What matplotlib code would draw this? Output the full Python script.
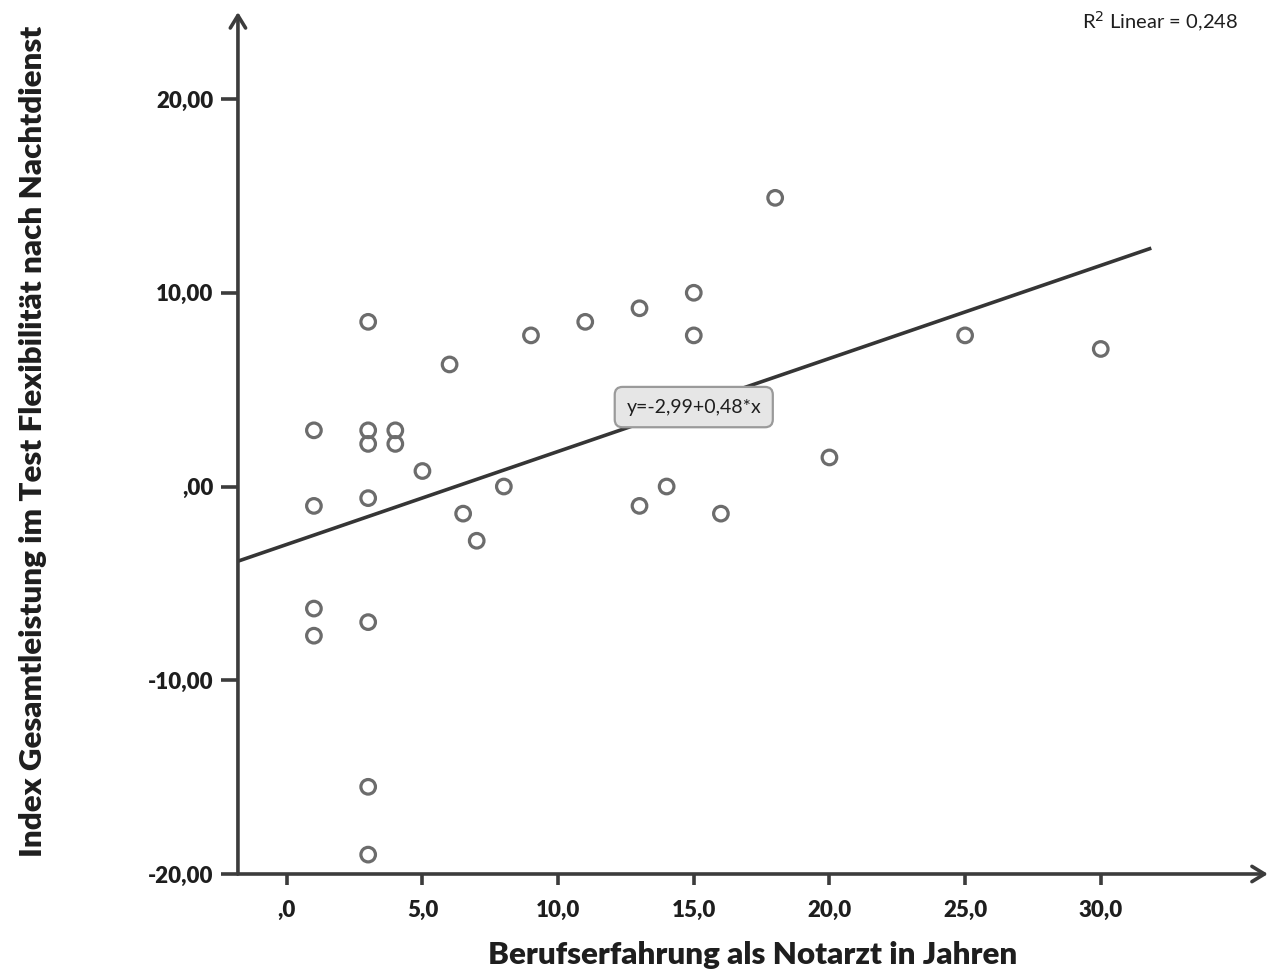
import numpy as np
import matplotlib.pyplot as plt

plt.rcParams['font.family'] = ['Lato', 'DejaVu Sans']

# Berufserfahrung (Jahre) und Index Gesamtleistung
erfahrung = [1, 1, 1, 1, 3, 3, 3, 3, 3, 3, 3, 4, 4, 5, 6, 6.5, 7, 8, 9, 11,
             13, 13, 14, 15, 15, 16, 18, 20, 25, 30]
index = [2.9, -1.0, -6.3, -7.7, 8.5, 2.9, 2.2, -0.6, -7.0, -15.5, -19.0, 2.9, 2.2,
         0.8, 6.3, -1.4, -2.8, 0.0, 7.8, 8.5, 9.2, -1.0, 0.0, 10.0, 7.8, -1.4,
         14.9, 1.5, 7.8, 7.1]

intercept = -2.99
slope = 0.48
r2 = 0.248

x_ticks = [0, 5, 10, 15, 20, 25, 30]
x_ticklabels = [',0', '5,0', '10,0', '15,0', '20,0', '25,0', '30,0']
y_ticks = [-20, -10, 0, 10, 20]
y_ticklabels = ['-20,00', '-10,00', ',00', '10,00', '20,00']

axis_col = '#3c3c3c'
text_col = '#1e1e1e'

fig = plt.figure(figsize=(12.82, 9.71), dpi=100)
ax = fig.add_axes([0.1856, 0.0999, 0.8034, 0.8877])
ax.set_xlim(-1.8, 36.16)
ax.set_ylim(-20, 24.49)

for s in ax.spines.values():
    s.set_visible(False)

# axes with arrow heads
arrow = dict(arrowstyle='->,head_length=0.9,head_width=0.55', color=axis_col, lw=2.6,
             shrinkA=0, shrinkB=0)
ax.annotate('', xy=(1, 0), xytext=(0, 0), xycoords='axes fraction', arrowprops=arrow)
ax.annotate('', xy=(0, 1), xytext=(0, 0), xycoords='axes fraction', arrowprops=arrow)

ax.set_xticks(x_ticks)
ax.set_xticklabels(x_ticklabels, fontweight='heavy', color=text_col, fontsize=16)
ax.set_yticks(y_ticks)
ax.set_yticklabels(y_ticklabels, fontweight='heavy', color=text_col, fontsize=16)
ax.tick_params(axis='x', direction='out', length=8, width=2.6, color=axis_col, pad=11)
ax.tick_params(axis='y', direction='out', length=12.5, width=2.6, color=axis_col, pad=5)

# Regressionsgerade
xs = np.array([-1.8, 31.8])
ax.plot(xs, intercept + slope * xs, color='#353535', lw=2.6, zorder=2)

ax.scatter(erfahrung, index, s=110, facecolors='none', edgecolors='#6c6c6c',
           linewidths=2.3, zorder=3)

ax.text(15.0, 4.1, 'y=-2,99+0,48*x', fontsize=14, ha='center', va='center',
        color=text_col, zorder=4,
        bbox=dict(boxstyle='round,pad=0.6,rounding_size=0.4', fc='#e6e6e6',
                  ec='#9a9a9a', lw=1.6))

fig.text(0.966, 0.977, 'R$^2$ Linear = 0,248', fontsize=14.5, ha='right', va='center',
         color=text_col)

fig.text(0.587, 0.016, 'Berufserfahrung als Notarzt in Jahren', fontsize=22.5,
         fontweight='heavy', ha='center', va='center', color=text_col)
fig.text(0.026, 0.545, 'Index Gesamtleistung im Test Flexibilität nach Nachtdienst',
         fontsize=22.5, fontweight='heavy', rotation=90, ha='center', va='center',
         color=text_col)

fig.savefig('out.png', dpi=100)
